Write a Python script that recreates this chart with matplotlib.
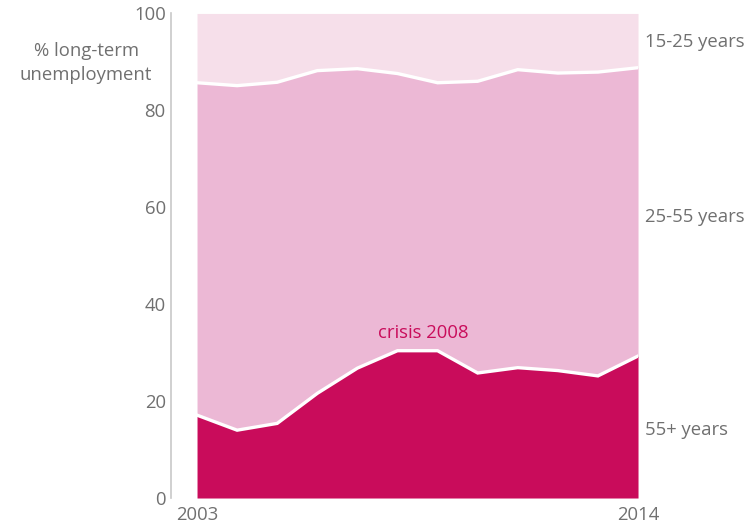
import numpy as np
import matplotlib
matplotlib.use("Agg")
import matplotlib.pyplot as plt

plt.rcParams["font.family"] = ["Open Sans", "DejaVu Sans"]

years = np.arange(2003, 2015)
# share of long-term unemployed by age group (%)
age_55plus = [17.1, 14.0, 15.4, 21.6, 26.8, 30.4, 30.4, 25.8, 26.9, 26.3, 25.2, 29.3]
age_25_55 = [68.6, 71.1, 70.4, 66.6, 61.8, 57.2, 55.3, 60.2, 61.5, 61.4, 62.7, 59.5]
age_15_25 = [14.3, 14.9, 14.2, 11.8, 11.4, 12.4, 14.3, 14.0, 11.6, 12.3, 12.1, 11.2]
labels = ["55+ years", "25-55 years", "15-25 years"]
label_y = [14.0, 57.9, 94.2]

c_dark = "#c90c5b"
c_mid = "#ecb8d5"
c_light = "#f6dfea"
grey = "#707070"
fs = 13.3

b1 = np.array(age_55plus)
b2 = b1 + np.array(age_25_55)
b3 = b2 + np.array(age_15_25)

fig = plt.figure(figsize=(7.5, 5.25), dpi=100)
ax = fig.add_axes([0.2627, 0.0514, 0.588, 0.923])

ax.fill_between(years, 0, b1, color=c_dark, lw=0)
ax.fill_between(years, b1, b2, color=c_mid, lw=0)
ax.fill_between(years, b2, b3, color=c_light, lw=0)
ax.plot(years, b1, color="white", lw=2.4, solid_joinstyle="miter")
ax.plot(years, b2, color="white", lw=2.4, solid_joinstyle="miter")

ax.set_xlim(2003, 2014)
ax.set_ylim(0, 100)

for s in ["top", "right", "bottom"]:
    ax.spines[s].set_visible(False)
ax.spines["left"].set_position(("outward", 18.5))
ax.spines["left"].set_color("#c8c8c8")
ax.spines["left"].set_linewidth(1.2)

ax.set_yticks([0, 20, 40, 60, 80, 100])
ax.set_xticks([2003, 2014])
ax.tick_params(axis="y", length=0, pad=4, labelsize=fs, labelcolor=grey)
ax.tick_params(axis="x", length=0, pad=6, labelsize=fs, labelcolor=grey)

for lab, y in zip(labels, label_y):
    ax.text(2014.17, y, lab, ha="left", va="center", fontsize=fs,
            color=grey, clip_on=False)

ax.text(2008.64, 34.1, "crisis 2008", ha="center", va="center",
        fontsize=fs, color=c_dark)

fig.text(86 / 750, 1 - 63 / 525, "% long-term\nunemployment", ha="center",
         va="center", fontsize=fs, color=grey, linespacing=1.45)

fig.savefig("out.png", dpi=100)
